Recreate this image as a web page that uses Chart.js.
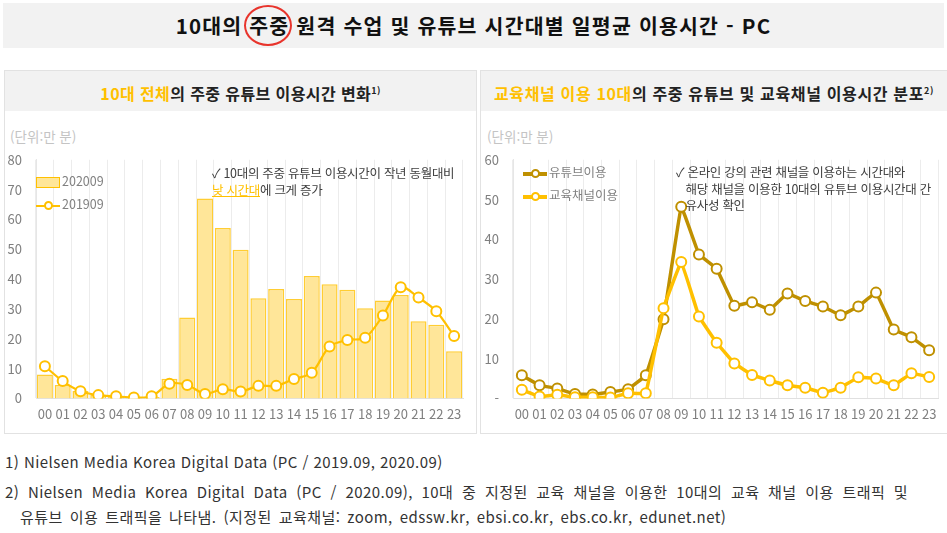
<!DOCTYPE html>
<html lang="ko">
<head>
<meta charset="utf-8">
<script src="https://cdn.jsdelivr.net/npm/chart.js@4/dist/chart.umd.min.js"></script>
<style>
    body { margin: 0; width: 947px; height: 533px; background: #fff; font-family: "Noto Sans CJK KR", "Noto Sans", sans-serif; position: relative; overflow: hidden; }
    .banner { position: absolute; left: 3px; top: 3px; width: 941px; height: 45px; background: #f2f2f2; }
    .banner h1 { margin: 0; font-size: 20.5px; font-weight: bold; color: #111; text-align: center; line-height: 45px; letter-spacing: 1.2px; }
    .circ { position: relative; }
    .circ::after { content: ""; position: absolute; left: -5px; right: -3px; top: -5px; bottom: -6px; border: 2px solid #e8342c; border-radius: 50%; }
    .panel { position: absolute; top: 70px; height: 362px; border: 1px solid #e2e2e2; background: #fff; }
    .panel .head { height: 40px; background: #f2f2f2; text-align: center; line-height: 40px; font-size: 16px; font-weight: bold; color: #222; letter-spacing: 0.4px; }
    .hl { color: #ffc000; }
    sup { font-size: 9px; }
    .unit { position: absolute; font-size: 13.5px; color: #c4c4c4; }
    .legend { position: absolute; font-size: 12.5px; color: #808080; line-height: 23px; }
    .legend span { display: inline-block; vertical-align: middle; margin-right: 2px; position: relative; }
    .legend span i { position: absolute; left: 50%; top: 50%; width: 5px; height: 5px; margin: -4.5px 0 0 -4.5px; border-radius: 50%; background: #fff; border: 2px solid; }
    .note { position: absolute; font-size: 12.5px; color: #404040; line-height: 17px; letter-spacing: -0.3px; }
    .note u { color: #ffc000; text-decoration-color: #ffc000; }
    .box { position: absolute; }
    .foot { position: absolute; left: 5px; font-size: 15px; color: #333; letter-spacing: 0.45px; white-space: nowrap; }
</style>
</head>
<body>
<div class="banner"><h1>10대의 <span class="circ">주중</span> 원격 수업 및 유튜브 시간대별 일평균 이용시간 - PC</h1></div>

<div class="panel" style="left:4px;width:471px;">
    <div class="head"><span class="hl">10대 전체</span>의 주중 유튜브 이용시간 변화<sup>1)</sup></div>
</div>
<div class="panel" style="left:480px;width:466px;">
    <div class="head" style="letter-spacing:0.65px;"><span class="hl">교육채널 이용 10대</span>의 주중 유튜브 및 교육채널 이용시간 분포<sup>2)</sup></div>
</div>

<div class="unit" style="left:10px;top:126px;">(단위:만 분)</div>
<div class="unit" style="left:487px;top:126px;">(단위:만 분)</div>

<div class="box" style="left:4px;top:146px;width:466px;height:284px;"><canvas id="leftChart"></canvas></div>
<div class="box" style="left:481px;top:146px;width:464px;height:284px;"><canvas id="rightChart"></canvas></div>

<div class="legend" style="left:36px;top:169px;">
    <div><span style="width:22px;height:9px;background:#ffe699;border:1px solid #ffc000;"></span>202009</div>
    <div><span style="width:24px;height:2px;background:#ffc000;"><i style="border-color:#ffc000;"></i></span>201909</div>
</div>
<div class="legend" style="left:523px;top:160px;">
    <div><span style="width:24px;height:4px;background:#bf9000;"><i style="border-color:#bf9000;"></i></span>유튜브이용</div>
    <div><span style="width:24px;height:4px;background:#ffc000;"><i style="border-color:#ffc000;"></i></span>교육채널이용</div>
</div>

<div class="note" style="left:212px;top:164px;">✓ 10대의 주중 유튜브 이용시간이 작년 동월대비<br><u>낮 시간대</u>에 크게 증가</div>
<div class="note" style="left:676px;top:164px;line-height:16.5px;">✓ 온라인 강의 관련 채널을 이용하는 시간대와<br>&nbsp;&nbsp;&nbsp;해당 채널을 이용한 10대의 유튜브 이용시간대 간<br>&nbsp;&nbsp;&nbsp;유사성 확인</div>

<div class="foot" style="top:451px;">1) Nielsen Media Korea Digital Data (PC / 2019.09, 2020.09)</div>
<div class="foot" style="top:481px;word-spacing:4px;">2) Nielsen Media Korea Digital Data (PC / 2020.09), 10대 중 지정된 교육 채널을 이용한 10대의 교육 채널 이용 트래픽 및</div>
<div class="foot" style="top:506px;left:20px;word-spacing:2.3px;">유튜브 이용 트래픽을 나타냄. (지정된 교육채널: zoom, edssw.kr, ebsi.co.kr, ebs.co.kr, edunet.net)</div>

<script>
// hours of day
const hours = ['00','01','02','03','04','05','06','07','08','09','10','11',
               '12','13','14','15','16','17','18','19','20','21','22','23'];

// left chart: 10대 전체 주중 유튜브 이용시간 (만 분)
const teen2020 = [8.0, 4.5, 2.5, 1.2, 0.5, 0.3, 0.5, 6.6, 27.1, 67.0, 57.1, 49.8,
                  33.6, 36.7, 33.3, 41.0, 38.3, 36.4, 30.2, 32.8, 34.7, 25.9, 24.7, 15.8];
const teen2019 = [10.8, 5.8, 2.4, 1.1, 0.7, 0.3, 0.7, 4.9, 4.5, 1.5, 3.1, 2.3,
                  4.2, 4.2, 6.5, 8.6, 17.4, 19.6, 20.3, 27.8, 37.3, 33.8, 29.2, 20.9];
const leftTicks = [0, 10, 20, 30, 40, 50, 60, 70, 80];

// right chart: 교육채널 이용 10대
const youtubeUse = [5.8, 3.3, 2.5, 1.1, 1.0, 1.6, 2.3, 5.8, 19.9, 48.2, 36.2, 32.6,
                    23.3, 24.2, 22.3, 26.4, 24.5, 23.1, 20.9, 23.1, 26.6, 17.3, 15.4, 12.1];
const eduUse = [2.2, 0.5, 0.9, 0.3, 0.3, 0.2, 1.3, 1.3, 22.7, 34.3, 20.6, 14.0,
                8.8, 5.9, 4.5, 3.3, 2.7, 1.4, 2.7, 5.3, 5.0, 3.3, 6.3, 5.4];
const rightTicks = [0, 10, 20, 30, 40, 50, 60];

const tickFont = { family: '"Noto Sans CJK KR", sans-serif', size: 13 };
const tickColor = '#7f7f7f';

function axes(max, ticks, zeroLabel) {
    return {
        x: {
            offset: true,
            grid: { display: true, offset: true, color: '#ececec', drawTicks: false },
            border: { display: true, color: '#e0e0e0' },
            ticks: { color: tickColor, font: tickFont, padding: 8, maxRotation: 0, autoSkip: false }
        },
        y: {
            min: 0, max: max,
            afterBuildTicks: axis => { axis.ticks = ticks.map(v => ({ value: v })); },
            afterFit: axis => { axis.width = 32; },
            grid: { display: false },
            border: { display: true, color: '#e6e6e6' },
            ticks: {
                color: tickColor, font: tickFont, padding: 6,
                callback: v => (v === 0 ? zeroLabel : v)
            }
        }
    };
}

new Chart(document.getElementById('leftChart'), {
    type: 'bar',
    data: {
        labels: hours,
        datasets: [
            {
                type: 'line', label: '201909', data: teen2019, order: 0,
                borderColor: '#ffc000', borderWidth: 2.2, tension: 0.3,
                pointRadius: 5, pointBorderWidth: 2, pointBackgroundColor: '#fff', pointBorderColor: '#ffc000'
            },
            {
                label: '202009', data: teen2020, order: 1,
                backgroundColor: '#ffe699', borderColor: '#ffcd33', borderWidth: 1.5,
                barPercentage: 0.9, categoryPercentage: 1
            }
        ]
    },
    options: {
        responsive: true, maintainAspectRatio: false, animation: false,
        layout: { padding: { left: 0, right: 3, top: 4, bottom: 0 } },
        plugins: { legend: { display: false }, tooltip: { enabled: false } },
        scales: axes(80, leftTicks, '0')
    }
});

new Chart(document.getElementById('rightChart'), {
    type: 'line',
    data: {
        labels: hours,
        datasets: [
            {
                label: '교육채널이용', data: eduUse,
                borderColor: '#ffc000', borderWidth: 3.5, tension: 0.05,
                pointRadius: 5, pointBorderWidth: 2, pointBackgroundColor: '#fff', pointBorderColor: '#ffc000'
            },
            {
                label: '유튜브이용', data: youtubeUse,
                borderColor: '#bf9000', borderWidth: 3.5, tension: 0.05,
                pointRadius: 5, pointBorderWidth: 2, pointBackgroundColor: '#fff', pointBorderColor: '#bf9000'
            }
        ]
    },
    options: {
        responsive: true, maintainAspectRatio: false, animation: false,
        layout: { padding: { left: 0, right: 3, top: 4, bottom: 0 } },
        plugins: { legend: { display: false }, tooltip: { enabled: false } },
        scales: axes(60, rightTicks, '-')
    }
});
</script>
</body>
</html>
